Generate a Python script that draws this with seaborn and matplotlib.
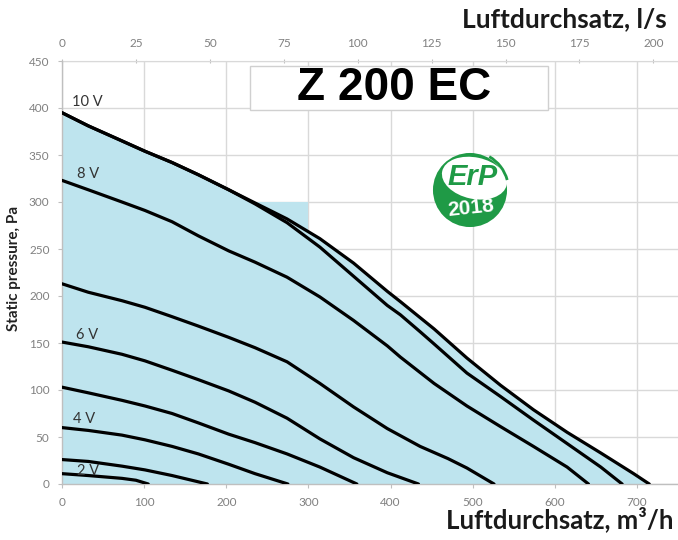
import numpy as np
import pandas as pd
import matplotlib
matplotlib.use("Agg")
import matplotlib.pyplot as plt
import seaborn as sns
from matplotlib.patches import Circle, Ellipse, Rectangle, Arc

# fan curves: air flow (m3/h) and static pressure (Pa)
flow_10v = [0, 32, 73, 101, 134, 166, 203, 235, 274, 314, 355, 396, 412, 436, 453, 493, 534, 574, 615, 656, 696, 715]
pres_10v = [395, 381, 365, 354, 342, 329, 313, 299, 282, 261, 235, 205, 194, 177, 165, 134, 105, 79, 55, 33, 11, 0]
flow_9v = [0, 32, 73, 101, 134, 166, 203, 235, 274, 314, 355, 396, 412, 436, 453, 493, 534, 574, 615, 656, 682]
pres_9v = [395, 381, 365, 354, 342, 329, 313, 298, 278, 252, 221, 190, 180, 162, 149, 118, 93, 68, 43, 18, 0]
flow_8v = [0, 32, 73, 101, 134, 166, 203, 235, 274, 314, 355, 396, 412, 453, 493, 534, 574, 615, 641]
pres_8v = [323, 313, 300, 291, 279, 264, 248, 236, 220, 199, 174, 147, 135, 107, 83, 61, 40, 18, 0]
flow_7v = [0, 32, 73, 101, 134, 166, 203, 235, 274, 314, 355, 396, 436, 470, 493, 526]
pres_7v = [213, 204, 195, 188, 178, 168, 156, 145, 130, 107, 82, 59, 40, 27, 17, 0]
flow_6v = [0, 32, 73, 101, 134, 166, 203, 235, 274, 314, 355, 396, 434]
pres_6v = [151, 146, 138, 131, 121, 111, 99, 87, 70, 48, 28, 12, 0]
flow_5v = [0, 32, 73, 101, 134, 166, 203, 235, 274, 314, 359]
pres_5v = [103, 97, 89, 83, 75, 65, 53, 44, 32, 18, 0]
flow_4v = [0, 32, 73, 101, 134, 166, 203, 235, 275]
pres_4v = [60, 57, 52, 47, 40, 32, 21, 11, 0]
flow_3v = [0, 32, 73, 101, 134, 177]
pres_3v = [26, 24, 19, 15, 9, 0]
flow_2v = [0, 32, 73, 90, 105]
pres_2v = [11, 9, 6, 4, 0]

curve_names = ["10 V", "9 V", "8 V", "7 V", "6 V", "5 V", "4 V", "3 V", "2 V"]
curve_flows = [flow_10v, flow_9v, flow_8v, flow_7v, flow_6v, flow_5v, flow_4v, flow_3v, flow_2v]
curve_pres = [pres_10v, pres_9v, pres_8v, pres_7v, pres_6v, pres_5v, pres_4v, pres_3v, pres_2v]
labelled = ["10 V", "8 V", "6 V", "4 V", "2 V"]

# working zone shaded together with the area under the top curve
zone_flow = 300
zone_pressure = 300

x_ticks = [0, 100, 200, 300, 400, 500, 600, 700]
y_ticks = [0, 50, 100, 150, 200, 250, 300, 350, 400, 450]
top_ticks = [0, 25, 50, 75, 100, 125, 150, 175, 200]

frames = []
for name, fl, pr in zip(curve_names, curve_flows, curve_pres):
    frames.append(pd.DataFrame({"flow": fl, "pressure": pr, "curve": name}))
df = pd.concat(frames, ignore_index=True)

sns.set_style("white")
plt.rcParams["font.family"] = ["Lato", "DejaVu Sans"]

fig = plt.figure(figsize=(6.78, 5.40), dpi=100)
ax = fig.add_axes([62 / 678, 1 - 484 / 540, 616 / 678, 423 / 540])

fill_col = "#bee4ee"
ax.fill_between(flow_10v, pres_10v, 0, color=fill_col, lw=0, zorder=1)
ax.fill_between([0, zone_flow], [zone_pressure, zone_pressure], 0, color=fill_col, lw=0, zorder=1)

sns.lineplot(data=df, x="flow", y="pressure", units="curve", estimator=None,
             sort=False, color="black", lw=2.3, ax=ax, zorder=3,
             solid_joinstyle="round", solid_capstyle="round")

# voltage labels next to the curve starts
offsets = {"10 V": (7, 7.5), "8 V": (11, 4.5), "6 V": (10, 5.4), "4 V": (8, 6.2), "2 V": (10.5, 2)}
for name, fl, pr in zip(curve_names, curve_flows, curve_pres):
    if name in labelled:
        ax.annotate(name, (fl[0], pr[0]), xytext=offsets[name], textcoords="offset points",
                    ha="left", va="center", fontsize=10.5, color="#333333", zorder=4)

ax.set_xlim(0, 750)
ax.set_ylim(0, 450)
ax.set_xticks(x_ticks)
ax.set_yticks(y_ticks)
ax.grid(True, color="#d9d9d9", lw=1)
ax.set_axisbelow(True)
for s in ["top", "right"]:
    ax.spines[s].set_visible(False)
for s in ["left", "bottom"]:
    ax.spines[s].set_color("#bfbfbf")
    ax.spines[s].set_linewidth(1)
ax.tick_params(axis="both", which="both", length=3, width=0.8, color="#bfbfbf",
               labelcolor="#808080", labelsize=8.5, pad=6, direction="out")
ax.tick_params(axis="y", left=True)
ax.tick_params(axis="x", bottom=True)
ax.set_xlabel("")
ax.set_ylabel("Static pressure, Pa", fontsize=11, fontweight="bold", color="#222222")
ax.yaxis.set_label_coords(-41 / 616, 0.51)

top = ax.secondary_xaxis("top", functions=(lambda q: q / 3.6, lambda q: q * 3.6))
top.set_xticks(top_ticks)
top.spines["top"].set_color("#d9d9d9")
top.tick_params(length=3, width=0.8, color="#bfbfbf", labelcolor="#808080",
                labelsize=8.5, pad=7, direction="inout")

fig.text(674 / 678, 1 - 528 / 540, "Luftdurchsatz, m\u00b3/h", ha="right", va="baseline",
         fontsize=18.5, fontweight="bold", color="#1a1a1a")
fig.text(667 / 678, 1 - 27 / 540, "Luftdurchsatz, l/s", ha="right", va="baseline",
         fontsize=19, fontweight="bold", color="#1a1a1a")

# title box
ax.add_patch(Rectangle((0.305, 0.884), 0.484, 0.104, transform=ax.transAxes,
                       facecolor="white", edgecolor="#d0d0d0", lw=1, zorder=5))
ax.text(0.539, 0.935, "Z 200 EC", transform=ax.transAxes, ha="center", va="center",
        fontsize=33, fontweight="bold", family="Liberation Sans", color="black", zorder=6)

# ErP 2018 badge
green = "#1f9a46"
lg = fig.add_axes([420 / 678, 1 - 240 / 540, 100 / 678, 100 / 540])
lg.set_xlim(-1.35, 1.35)
lg.set_ylim(-1.35, 1.35)
lg.set_aspect("equal")
lg.axis("off")
lg.add_patch(Circle((0, 0), 1.0, facecolor=green, edgecolor="none"))
lg.add_patch(Ellipse((0.12, 0.32), 1.78, 1.12, angle=-12, facecolor="white", edgecolor="none"))
lg.add_patch(Arc((0, 0), 2.08, 2.08, theta1=15, theta2=60, color=green, lw=2))
lg.text(0.08, 0.36, "ErP", ha="center", va="center", fontsize=21, fontweight="bold",
        style="italic", family="Liberation Sans", color=green)
lg.text(0.02, -0.5, "2018", ha="center", va="center", fontsize=15, fontweight="bold",
        family="Liberation Sans", color="white", rotation=6)

fig.savefig("out.png", dpi=100)
